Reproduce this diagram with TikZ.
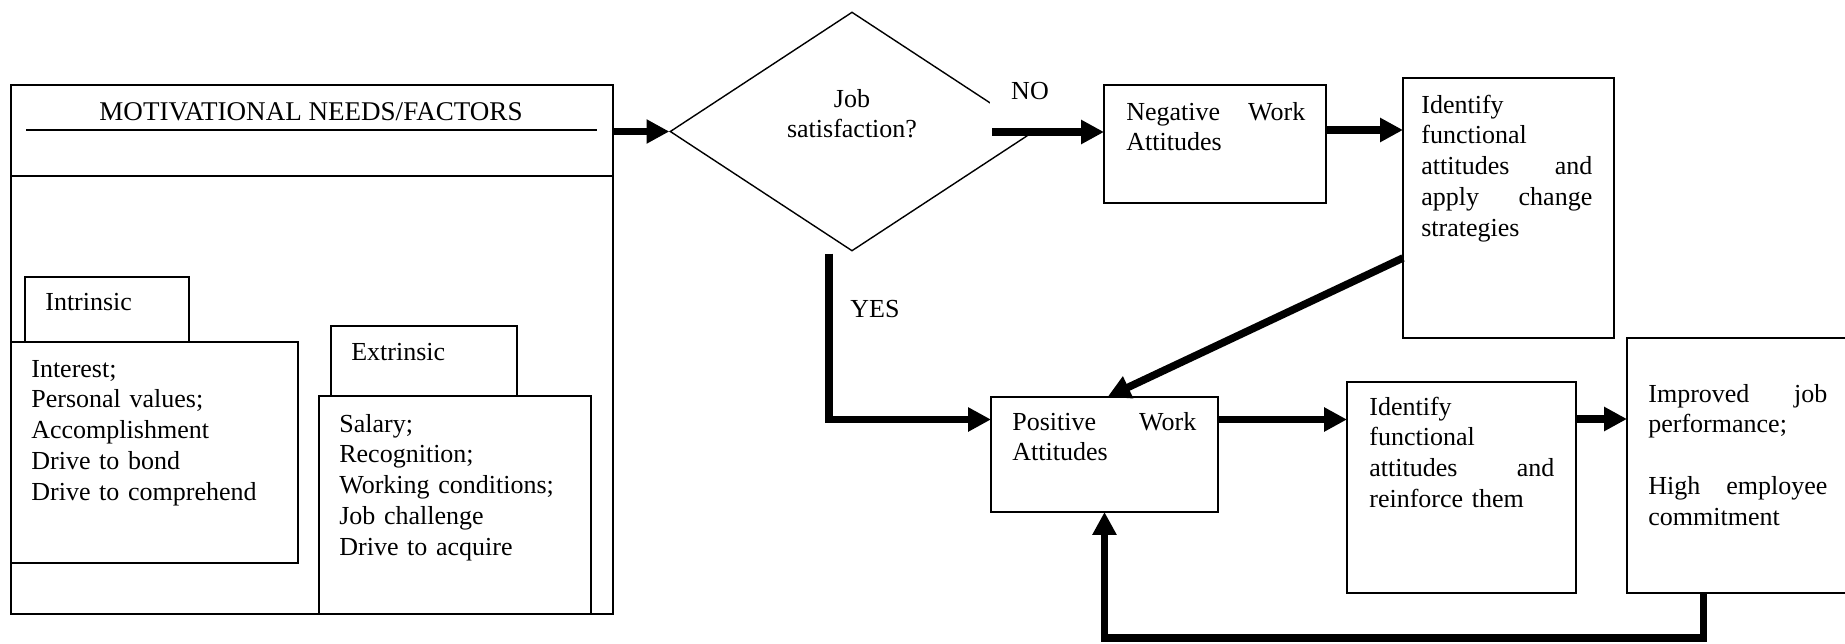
\documentclass[tikz,border=0pt]{standalone}
\usepackage{fontspec}
\setmainfont{Liberation Serif}
\usetikzlibrary{shapes.geometric}
\usetikzlibrary{arrows.meta, positioning}

\begin{document}
\begin{tikzpicture}[x=0.02cm, y=-0.02cm,
        every node/.style={font=\fontsize{14.8}{17.6}\selectfont},
        box/.style={rectangle, draw, line width=0.8pt, anchor=north west, inner sep=0pt, outer sep=0pt},
        decision/.style={diamond, draw, line width=0.8pt, minimum width=7.28cm, minimum height=4.78cm, inner sep=0pt},
        txt/.style={anchor=base west, inner sep=0pt, align=left},
        flow/.style={line width=4.3pt, -{Triangle[length=13pt, width=13pt]}}
    ]
        \useasboundingbox (0,0) rectangle (1845,643);

        % Motivational needs
        \node[box, minimum width=12.04cm, minimum height=10.58cm] (motiv) at (11,85) {};
        \node[anchor=base, inner sep=0pt, font=\fontsize{15.4}{17.6}\selectfont] (title) at (311,120) {MOTIVATIONAL NEEDS/FACTORS};
        \draw[line width=0.8pt] (26,130) -- (597,130);
        \draw[line width=0.8pt] (11,176) -- (613,176);

        % Intrinsic
        \node[box, minimum width=3.28cm, minimum height=1.3cm] (inttab) at (25,277) {};
        \node[box, minimum width=5.74cm, minimum height=4.42cm] (intbox) at (11,342) {};
        \node[txt] (intlbl) at (45,310) {Intrinsic};
        \node[txt, text width=5.3cm] (intlist) at (31,377) {Interest;\\Personal values;\\Accomplishment\\Drive to bond\\Drive to comprehend};

        % Extrinsic
        \node[box, minimum width=3.72cm, minimum height=1.4cm] (exttab) at (331,326) {};
        \node[box, minimum width=5.44cm, minimum height=4.36cm] (extbox) at (319,396) {};
        \node[txt] (extlbl) at (351,360) {Extrinsic};
        \node[txt, text width=5cm] (extlist) at (339,432) {Salary;\\Recognition;\\Working conditions;\\Job challenge\\Drive to acquire};

        % Decision
        \node[decision] (dec) at (852,131.5) {};
        \node[anchor=base, inner sep=0pt, text width=4cm, align=center] (q) at (852,107) {Job\\satisfaction?};
        \node[anchor=base, fill=white, inner xsep=12pt, inner ysep=0pt, text depth=17pt] (no) at (1030,99) {NO};
        \node[txt] (yes) at (850,317) {YES};

        % Attitude boxes
        \node[box, minimum width=4.44cm, minimum height=2.36cm] (neg) at (1104,85) {};
        \node[txt, text width=3.58cm] (negtxt) at (1126,120) {Negative\hfill Work\\Attitudes};

        \node[box, minimum width=4.22cm, minimum height=5.2cm] (chg) at (1403,78) {};
        \node[txt, text width=3.42cm] (chgtxt) at (1421,113) {Identify\\functional\\attitudes\hfill and\\apply\hfill change\\strategies};

        \node[box, minimum width=4.54cm, minimum height=2.3cm] (pos) at (991,397) {};
        \node[txt, text width=3.68cm] (postxt) at (1012,430) {Positive\hfill Work\\Attitudes};

        \node[box, minimum width=4.58cm, minimum height=4.22cm] (rnf) at (1347,382) {};
        \node[txt, text width=3.7cm] (rnftxt) at (1369,415) {Identify\\functional\\attitudes\hfill and\\reinforce them};

        \node[box, minimum width=4.66cm, minimum height=5.1cm] (impr) at (1627,338) {};
        \node[txt, text width=3.58cm] (imprtxt) at (1648,402) {Improved\hfill job\\performance;\\[17.6pt]High\hfill employee\\commitment};

        % Connectors
        \coordinate (nostart) at (992,132);
        \draw[flow] (dec.west -| motiv.east) -- (dec.west);
        \draw[flow] (nostart) -- (nostart -| neg.west);
        \draw[flow] ([yshift=0.28cm]neg.east) -- ([yshift=0.28cm]neg.east -| chg.west);
        \draw[flow] ([yshift=-1cm]chg.west) -- ([xshift=0.06cm]pos.north);
        \draw[flow] ([xshift=-0.46cm, yshift=-0.04cm]dec.south) |- ([yshift=0.7cm]pos.west);
        \draw[flow] ([yshift=0.7cm]pos.east) -- ([yshift=0.7cm]pos.east -| rnf.west);
        \draw[flow] ([yshift=1.37cm]rnf.east) -- ([yshift=1.37cm]rnf.east -| impr.west);
        \draw[flow] ([xshift=-0.8cm]impr.south) -- ++(0,45) -| (pos.south);
    \end{tikzpicture}
\end{document}
